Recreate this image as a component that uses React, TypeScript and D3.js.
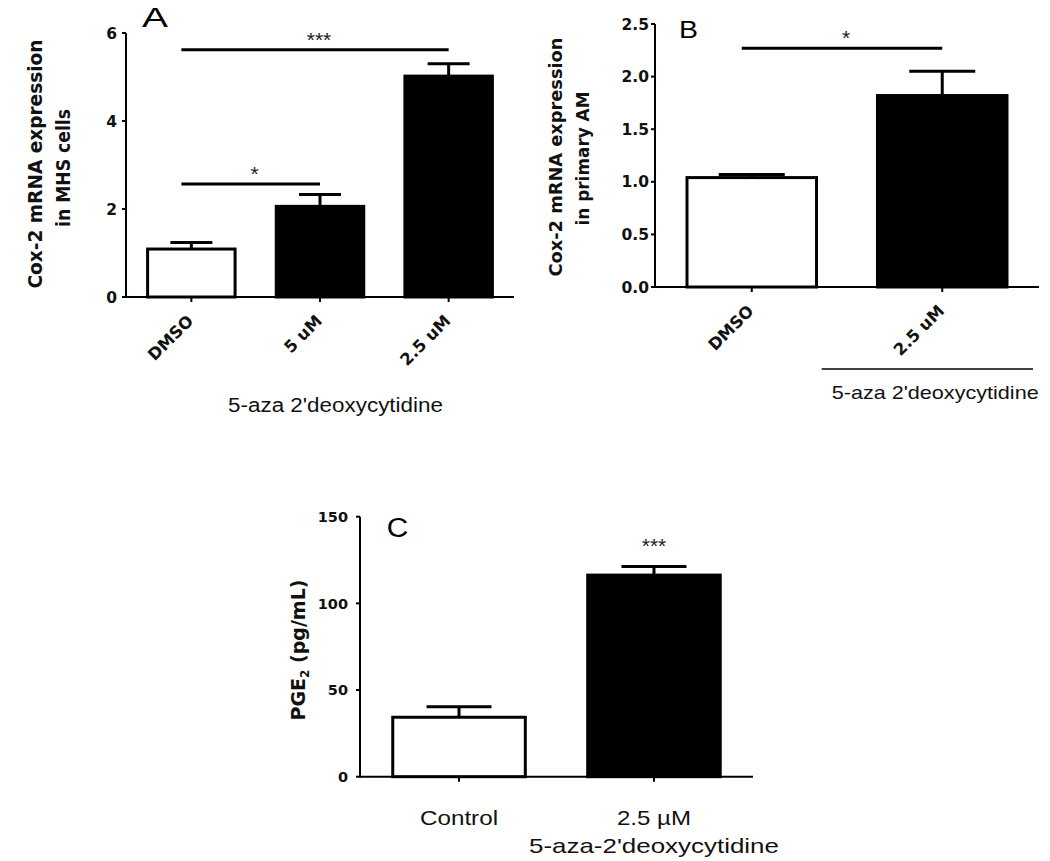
import React from 'react'
import * as d3 from 'd3'

// panel A: Cox-2 mRNA in MHS cells
const aGroups = ['DMSO', '5 uM', '2.5 uM']
const aMeans = [1.09, 2.06, 5.02]
const aSem = [0.15, 0.27, 0.28]
const aTicks = [0, 2, 4, 6]
const aSig = [
  { from: 0, to: 2, label: '***', at: 5.62 },
  { from: 0, to: 1, label: '*', at: 2.57 },
]

// panel B: Cox-2 mRNA in primary AM
const bGroups = ['DMSO', '2.5 uM']
const bMeans = [1.04, 1.82]
const bSem = [0.03, 0.23]
const bTicks = [0, 0.5, 1.0, 1.5, 2.0, 2.5]
const bSig = [{ from: 0, to: 1, label: '*', at: 2.27 }]

// panel C: PGE2
const cGroups = ['Control', '2.5 \u00b5M']
const cMeans = [34.3, 116.3]
const cSem = [6.1, 4.9]
const cTicks = [0, 50, 100, 150]

const BOLD = "'DejaVu Sans', Verdana, sans-serif"
const REG = "'Liberation Sans', Arial, sans-serif"

type Sig = { from: number; to: number; label: string; at: number }

function Txt(props: any) {
  const { len, children, ...rest } = props
  return (
    <text
      {...rest}
      {...(len ? { textLength: len, lengthAdjust: 'spacingAndGlyphs' } : {})}
    >
      {children}
    </text>
  )
}

function Panel(props: {
  groups: string[]
  means: number[]
  sem: number[]
  ticks: number[]
  fmt: (d: number) => string
  left: number
  right: number
  top: number
  bottom: number
  max: number
  capW: number
  tickFont: number
  tickGap: number
  sig: Sig[]
  rotateLabels: boolean
}) {
  const { groups, means, sem, ticks, fmt, left, right, top, bottom, max, capW } = props
  const x = d3.scaleBand<string>().domain(groups).range([left, right]).paddingInner(0.32).paddingOuter(0.168)
  const y = d3.scaleLinear().domain([0, max]).range([bottom, top])
  const bw = x.bandwidth()
  const cx = (i: number) => (x(groups[i]) as number) + bw / 2

  return (
    <g>
      {groups.map((g, i) => (
        <rect
          key={g}
          x={x(g)}
          y={y(means[i])}
          width={bw}
          height={y(0) - y(means[i])}
          fill={i === 0 ? '#fff' : '#000'}
          stroke="#000"
          strokeWidth={3}
        />
      ))}
      {groups.map((g, i) => (
        <g key={'e' + g} stroke="#000" strokeWidth={3}>
          <line x1={cx(i)} x2={cx(i)} y1={y(means[i])} y2={y(means[i] + sem[i])} />
          <line x1={cx(i) - capW / 2} x2={cx(i) + capW / 2} y1={y(means[i] + sem[i])} y2={y(means[i] + sem[i])} />
        </g>
      ))}
      {/* axes */}
      <line x1={left} x2={left} y1={y(0) + 1} y2={y(max)} stroke="#000" strokeWidth={2} />
      <line x1={left} x2={right} y1={y(0)} y2={y(0)} stroke="#000" strokeWidth={2} />
      {ticks.map((t) => (
        <g key={'t' + t}>
          <line x1={left - 4} x2={left} y1={y(t)} y2={y(t)} stroke="#000" strokeWidth={2} />
          <text
            x={left - props.tickGap}
            y={y(t)}
            dy="0.36em"
            textAnchor="end"
            fontFamily={BOLD}
            fontWeight="bold"
            fontSize={props.tickFont}
            fill="#111"
          >
            {fmt(t)}
          </text>
        </g>
      ))}
      {groups.map((g, i) => (
        <line key={'xt' + g} x1={cx(i)} x2={cx(i)} y1={y(0)} y2={y(0) + 5} stroke="#000" strokeWidth={2} />
      ))}
      {props.rotateLabels &&
        groups.map((g, i) => (
          <text
            key={'xl' + g}
            transform={`translate(${cx(i) + 3},${y(0) + 25}) rotate(-45)`}
            textAnchor="end"
            fontFamily={BOLD}
            fontWeight="bold"
            fontSize={16.5}
            fill="#111"
          >
            {g}
          </text>
        ))}
      {props.sig.map((s) => {
        const x1 = cx(s.from) - 10
        const x2 = cx(s.to)
        return (
          <g key={'s' + s.label + s.to}>
            <line x1={x1} x2={x2} y1={y(s.at)} y2={y(s.at)} stroke="#000" strokeWidth={3} />
            <text x={(x1 + x2) / 2 + 4} y={y(s.at) - 3} textAnchor="middle" fontFamily={REG} fontSize={21} fill="#222">
              {s.label}
            </text>
          </g>
        )
      })}
    </g>
  )
}

export default function App() {
  const yC = d3.scaleLinear().domain([0, 150]).range([776.7, 516.7])
  const xC = d3.scaleBand<string>().domain(cGroups).range([360, 753]).paddingInner(0.32).paddingOuter(0.168)
  const cxC = (i: number) => (xC(cGroups[i]) as number) + xC.bandwidth() / 2

  return (
    <svg
      width={1050}
      height={861}
      style={{ position: 'absolute', left: 0, top: 0, background: '#fff' }}
    >
      <rect width={1050} height={861} fill="#fff" />

      {/* A */}
      <Txt x={142} y={26.5} fontFamily={REG} fontSize={27} len={26} fill="#000">A</Txt>
      <Panel
        groups={aGroups}
        means={aMeans}
        sem={aSem}
        ticks={aTicks}
        fmt={(d) => String(d)}
        left={126}
        right={514}
        top={33}
        bottom={297}
        max={6}
        capW={42}
        tickFont={15.5}
        tickGap={9}
        sig={aSig}
        rotateLabels={true}
      />
      <g fontFamily={BOLD} fontWeight="bold" fontSize={19} fill="#111" textAnchor="middle">
        <Txt transform="translate(42,164) rotate(-90)" len={249}>Cox-2 mRNA expression</Txt>
        <Txt transform="translate(70,168) rotate(-90)" len={118}>in MHS cells</Txt>
      </g>
      <Txt x={228} y={411.5} fontFamily={REG} fontSize={20} len={215} fill="#111">5-aza 2'deoxycytidine</Txt>

      {/* B */}
      <Txt x={679} y={37.5} fontFamily={REG} fontSize={23} len={19} fill="#000">B</Txt>
      <Panel
        groups={bGroups}
        means={bMeans}
        sem={bSem}
        ticks={bTicks}
        fmt={(d) => d3.format('.1f')(d)}
        left={655}
        right={1039}
        top={24}
        bottom={287}
        max={2.5}
        capW={66}
        tickFont={15.5}
        tickGap={6}
        sig={bSig}
        rotateLabels={true}
      />
      <g fontFamily={BOLD} fontWeight="bold" fontSize={18} fill="#111" textAnchor="middle">
        <Txt transform="translate(562,157) rotate(-90)" len={239}>Cox-2 mRNA expression</Txt>
        <Txt transform="translate(588.5,158.5) rotate(-90)" len={134}>in primary AM</Txt>
      </g>
      <line x1={821.7} x2={1033} y1={369} y2={369} stroke="#000" strokeWidth={1.5} />
      <Txt x={831.7} y={399} fontFamily={REG} fontSize={19} len={207} fill="#111">5-aza 2'deoxycytidine</Txt>

      {/* C */}
      <Txt x={386.7} y={536.7} fontFamily={REG} fontSize={27} len={21.5} fill="#000">C</Txt>
      <Panel
        groups={cGroups}
        means={cMeans}
        sem={cSem}
        ticks={cTicks}
        fmt={(d) => String(d)}
        left={360}
        right={753}
        top={516.7}
        bottom={776.7}
        max={150}
        capW={65}
        tickFont={14.5}
        tickGap={12}
        sig={[]}
        rotateLabels={false}
      />
      <text
        x={cxC(1)}
        y={yC(cMeans[1] + cSem[1]) - 14}
        textAnchor="middle"
        fontFamily={REG}
        fontSize={21}
        fill="#222"
      >
        ***
      </text>
      <text
        transform="translate(305,650) rotate(-90)"
        textAnchor="middle"
        fontFamily={BOLD}
        fontWeight="bold"
        fontSize={19}
        fill="#111"
      >
        PGE<tspan fontSize={12} dy={4}>2</tspan>
        <tspan dy={-4}> (pg/mL)</tspan>
      </text>
      <Txt x={cxC(0)} y={825} textAnchor="middle" fontFamily={REG} fontSize={21} len={78} fill="#111">{cGroups[0]}</Txt>
      <Txt x={cxC(1)} y={825} textAnchor="middle" fontFamily={REG} fontSize={21} len={74} fill="#111">{cGroups[1]}</Txt>
      <Txt x={cxC(1)} y={853} textAnchor="middle" fontFamily={REG} fontSize={21} len={250} fill="#111">5-aza-2'deoxycytidine</Txt>
    </svg>
  )
}
